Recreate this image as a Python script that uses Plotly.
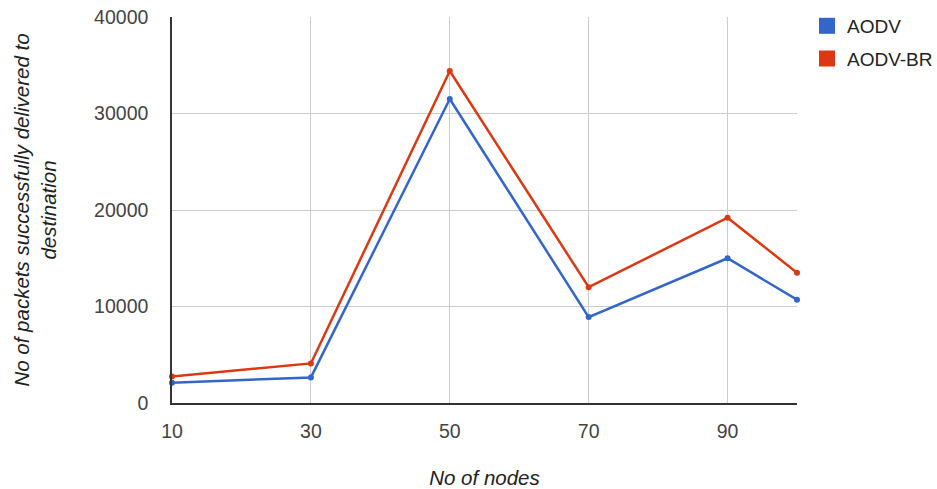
import plotly.graph_objects as go

nodes = [10, 30, 50, 70, 90, 100]
aodv = [2100, 2650, 31500, 8900, 15000, 10700]
aodv_br = [2750, 4100, 34400, 12000, 19200, 13500]
series_names = ["AODV", "AODV-BR"]
colors = ["#3366cc", "#dc3912"]
x_ticks = [10, 30, 50, 70, 90]
y_ticks = [0, 10000, 20000, 30000, 40000]

FONT = "Liberation Sans, Arial, sans-serif"

fig = go.Figure()
for name, vals, col in zip(series_names, [aodv, aodv_br], colors):
    fig.add_trace(go.Scatter(
        x=nodes, y=vals, mode="lines+markers", name=name,
        line=dict(color=col, width=2.5), marker=dict(color=col, size=6),
        showlegend=False, cliponaxis=False))
    fig.add_trace(go.Scatter(
        x=[None], y=[None], mode="markers", name=name, legendgroup=name,
        marker=dict(color=col, symbol="square", size=18), showlegend=True))

fig.update_layout(
    width=937, height=489,
    margin=dict(l=172, r=140, t=17, b=86, autoexpand=False),
    paper_bgcolor="white", plot_bgcolor="white",
    font=dict(family=FONT, size=19, color="#444"),
    legend=dict(x=1.016, y=1.026, xanchor="left", yanchor="top",
                font=dict(size=19, color="#222"), itemsizing="trace",
                traceorder="grouped", tracegroupgap=5),
    xaxis=dict(range=[10, 100], tickvals=x_ticks, showgrid=True,
               gridcolor="#cccccc", gridwidth=1, zeroline=False,
               showline=True, linecolor="#333", linewidth=1.5,
               ticks="outside", ticklen=10, tickcolor="rgba(0,0,0,0)",
               tickfont=dict(size=19.5, color="#444"), automargin=False,
               title=dict(text="<i>No of nodes</i>", font=dict(size=20.5, color="#222"), standoff=32)),
    yaxis=dict(range=[0, 40000], tickvals=y_ticks, tickformat="d", showgrid=True,
               gridcolor="#cccccc", gridwidth=1, zeroline=False,
               showline=True, linecolor="#333", linewidth=1.5,
               ticks="outside", ticklen=18, tickcolor="rgba(0,0,0,0)",
               tickfont=dict(size=19.5, color="#444"), automargin=False,
               title=dict(text="<i>No of packets successfully delivered to<br>destination</i>",
                          font=dict(size=20.5, color="#222"), standoff=32)),
)
fig.write_html("out.html", config={"displayModeBar": False},
               post_script="document.body.style.margin='0';")
